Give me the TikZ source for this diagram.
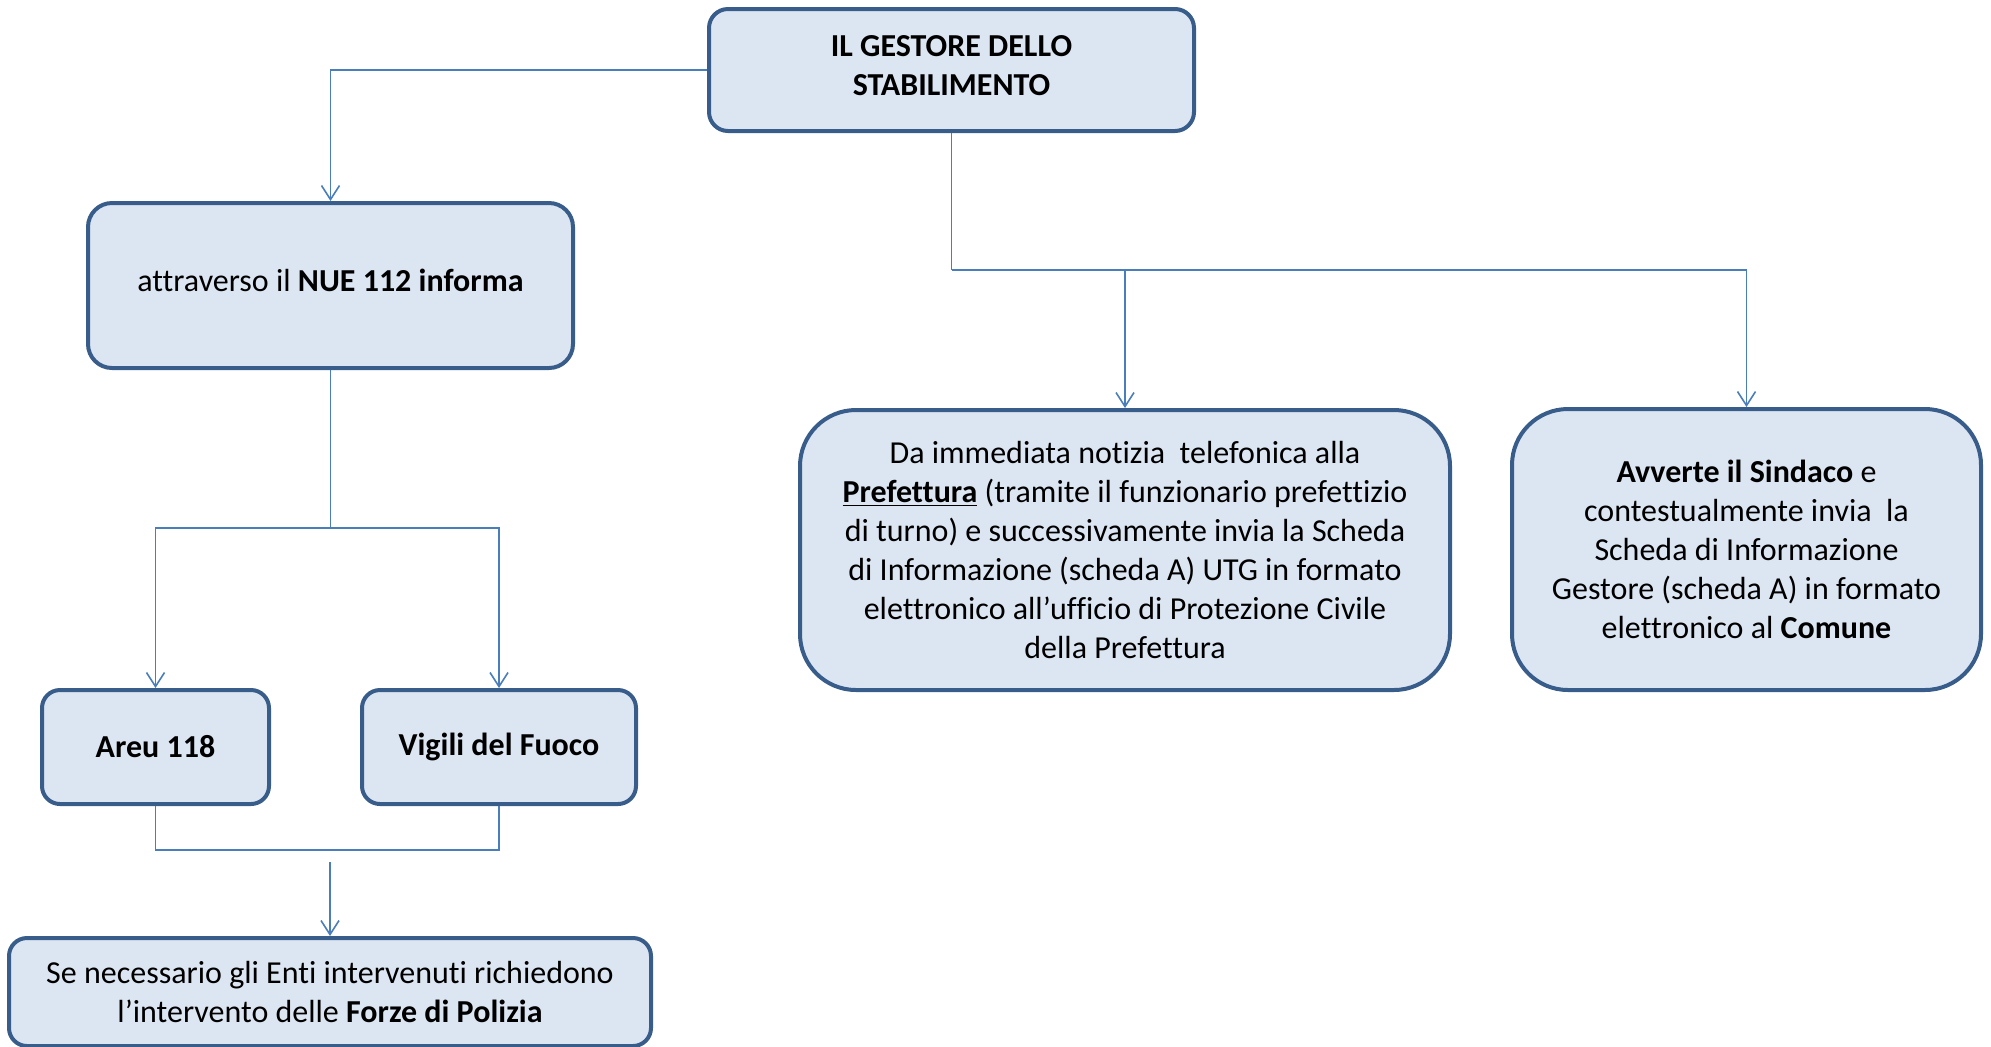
\documentclass[tikz,border=0pt]{standalone}
\usepackage{fontspec}
\setmainfont{Carlito}[Ligatures=NoCommon, Contextuals=NoAlternate]
\usetikzlibrary{arrows.meta}
\definecolor{boxfill}{HTML}{DCE6F2}
\definecolor{boxline}{HTML}{385D8A}
\definecolor{connline}{HTML}{4A7EBB}

\begin{document}
\begin{tikzpicture}[x=0.5pt, y=-0.5pt,
  box/.style={draw=boxline, fill=boxfill, line width=2pt, align=center,
    inner sep=0pt, font=\fontsize{16}{19.5}\selectfont},
  line/.style={draw=connline, line width=0.8pt},
  conn/.style={line, -{Straight Barb[length=7pt, width=9pt]}}]
\useasboundingbox (0,0) rectangle (1991,1046);

% Knoten
\node[box, rounded corners=9.5pt, minimum width=242.5pt, minimum height=61pt,
  text depth=5pt]
  (gest) at (951.5,70) {\textbf{IL GESTORE DELLO}\\\textbf{STABILIMENTO}};

\node[box, rounded corners=12pt, minimum width=242.5pt, minimum height=82.5pt,
  text depth=5pt]
  (nue) at (330.5,285.5) {attraverso il \textbf{NUE 112 informa}};

\node[box, rounded corners=9pt, minimum width=113.5pt, minimum height=57pt]
  (areu) at (155.5,747) {\textbf{Areu 118}};
\node[box, rounded corners=9pt, minimum width=137pt, minimum height=57pt]
  (vvf) at (499,747) {\textbf{Vigili del Fuoco}};

\node[box, rounded corners=9pt, minimum width=321pt, minimum height=54pt]
  (poli) at (330,992) {Se necessario gli Enti intervenuti richiedono\\
  l’intervento delle \textbf{Forze di Polizia}};

\node[box, rounded corners=28pt, minimum width=325pt, minimum height=140pt]
  (pref) at (1125,550) {Da immediata notizia\ \ telefonica alla\\
  \underline{\textbf{Prefettura}} (tramite il funzionario prefettizio\\
  di turno) e successivamente invia la Scheda\\
  di Informazione (scheda A) UTG in formato\\
  elettronico all’ufficio di Protezione Civile\\
  della Prefettura};

\node[box, rounded corners=28pt, minimum width=234.5pt, minimum height=140.5pt]
  (sind) at (1746.5,549.5) {\textbf{Avverte il Sindaco} e\\
  contestualmente invia\ \ la\\
  Scheda di Informazione\\
  Gestore (scheda A) in formato\\
  elettronico al \textbf{Comune}};

% Hilfspunkte
\coordinate (gsplit) at (951.5,270);
\coordinate (nsplit) at (330.5,528);
\coordinate (merge)  at (330,850);
\coordinate (pstart) at (330,862);

% Pfeile vom Gestore
\draw[conn] (gest.west) -| (nue.north);
\draw[line] (gest.south) -- (gsplit);
\draw[conn] (gsplit) -| (pref.north);
\draw[conn] (gsplit) -| (sind.north);

% Pfeile NUE -> Areu/Vigili
\draw[line] (nue.south) -- (nsplit);
\draw[conn] (nsplit) -| (areu.north);
\draw[conn] (nsplit) -| (vvf.north);

% Zusammenfuehrung -> Forze di Polizia
\draw[line] (areu.south) |- (merge) -| (vvf.south);
\draw[conn] (pstart) -- (poli.north);

\end{tikzpicture}
\end{document}
